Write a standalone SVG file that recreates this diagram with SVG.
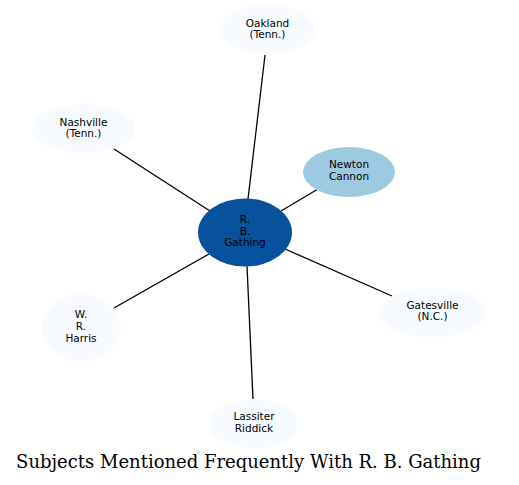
<svg xmlns="http://www.w3.org/2000/svg" width="519" height="485" viewBox="0 0 519 485">
<style>
.n{fill:#f7fbff;stroke:none}
.t{font-family:"DejaVu Sans",sans-serif;font-size:10.5px;fill:#000;text-anchor:middle}
.e{stroke:#000;stroke-width:1.3;fill:none}
.title{font-family:"DejaVu Serif",serif;font-size:18px;fill:#000;text-anchor:middle}
</style>
<rect width="519" height="485" fill="#fff"/>
<g id="edges">
<line class="e" x1="265" y1="55" x2="248" y2="199"/>
<line class="e" x1="114" y1="149" x2="210" y2="211"/>
<line class="e" x1="318" y1="189" x2="281" y2="211"/>
<line class="e" x1="392" y1="296" x2="285" y2="249"/>
<line class="e" x1="114" y1="308" x2="209" y2="254"/>
<line class="e" x1="253" y1="399" x2="247" y2="266"/>
</g>
<g id="oakland"><ellipse class="n" cx="267.5" cy="29.5" rx="47.5" ry="24.5"/><text class="t" x="267.5" y="26.5">Oakland</text><text class="t" x="267.5" y="38">(Tenn.)</text></g>
<g id="nashville"><ellipse class="n" cx="83.5" cy="128.5" rx="51.5" ry="24.5"/><text class="t" x="83.5" y="125.7">Nashville</text><text class="t" x="83.5" y="137.3">(Tenn.)</text></g>
<g id="newton"><ellipse cx="349" cy="172" rx="46" ry="25" fill="#9ecae1"/><text class="t" x="349" y="168.2">Newton</text><text class="t" x="349" y="179.8">Cannon</text></g>
<g id="gathing"><ellipse cx="245" cy="232.5" rx="47" ry="34" fill="#08519c"/><text class="t" x="245" y="222.8">R.</text><text class="t" x="245" y="234.6">B.</text><text class="t" x="245" y="246.4">Gathing</text></g>
<g id="gatesville"><ellipse class="n" cx="432.5" cy="312.5" rx="53.5" ry="24.5"/><text class="t" x="432.5" y="308.8">Gatesville</text><text class="t" x="432.5" y="320.4">(N.C.)</text></g>
<g id="harris"><ellipse class="n" cx="81" cy="327.5" rx="39" ry="33.5"/><text class="t" x="81" y="318">W.</text><text class="t" x="81" y="330">R.</text><text class="t" x="81" y="342">Harris</text></g>
<g id="lassiter"><ellipse class="n" cx="254" cy="424" rx="46" ry="24.5"/><text class="t" x="254" y="420.4">Lassiter</text><text class="t" x="254" y="432">Riddick</text></g>
<text class="title" x="248.5" y="468">Subjects Mentioned Frequently With R. B. Gathing</text>
</svg>
